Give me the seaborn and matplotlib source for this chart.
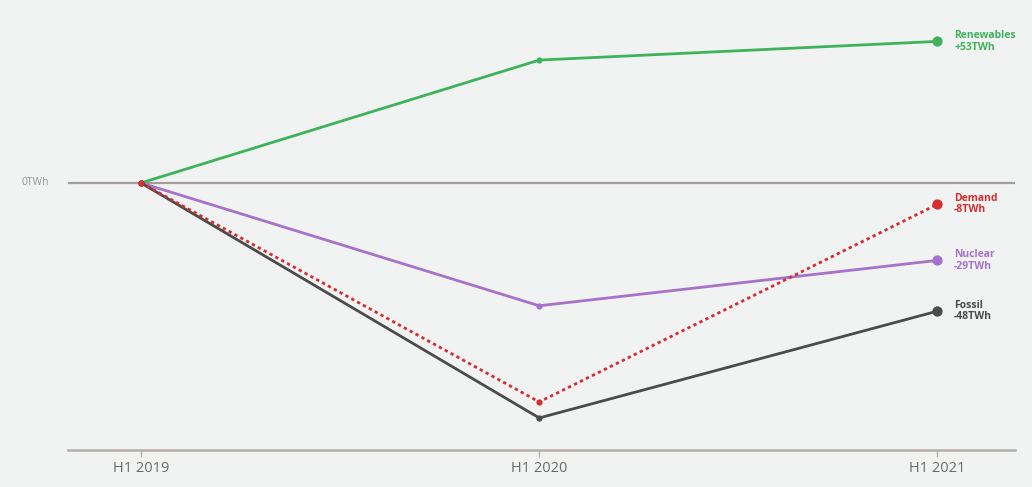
import matplotlib
matplotlib.use("Agg")
import matplotlib.pyplot as plt
import seaborn as sns
import pandas as pd

# Change in EU electricity vs H1 2019 (TWh)
periods = ["H1 2019", "H1 2020", "H1 2021"]
renewables = [0, 46, 53]
demand = [0, -82, -8]
nuclear = [0, -46, -29]
fossil = [0, -88, -48]

series_names = ["Renewables", "Nuclear", "Fossil", "Demand"]
series_values = [renewables, nuclear, fossil, demand]
colors = {"Renewables": "#3fb35b", "Nuclear": "#a772c9",
          "Fossil": "#4b4b4b", "Demand": "#d32f2f"}

rows = []
for name, vals in zip(series_names, series_values):
    for i, (p, v) in enumerate(zip(periods, vals)):
        rows.append({"series": name, "x": i, "period": p, "twh": v})
df = pd.DataFrame(rows)

sns.set_theme(style="white")
plt.rcParams["font.family"] = ["Open Sans", "DejaVu Sans"]

bg = "#f1f3f3"
fig = plt.figure(figsize=(10.32, 4.87), dpi=100, facecolor=bg)
ax = fig.add_axes([0.066, 0.076, 0.918, 0.924], facecolor=bg)

# Zero reference line
ax.axhline(0, color="#a59d9a", lw=1.6, zorder=1)

for name in series_names:
    sub = df[df.series == name]
    sns.lineplot(data=sub, x="x", y="twh", ax=ax, color=colors[name],
                 lw=2.0,
                 linestyle=(0, (1.2, 1.2)) if name == "Demand" else "-",
                 marker="o", markersize=4.5, markeredgewidth=0,
                 zorder=3 if name == "Demand" else 2, legend=False)
    # Larger end marker and label
    last = sub.iloc[-1]
    ax.scatter([last.x], [last.twh], s=55, color=colors[name], zorder=4,
               linewidths=0)
    sign = "+" if last.twh > 0 else ("-" if last.twh < 0 else "")
    ax.text(last.x + 0.042, last.twh, f"{name}\n{sign}{abs(last.twh)}TWh",
            color=colors[name], fontsize=7.5, fontweight="bold",
            va="center", ha="left", linespacing=1.05, zorder=5)

ax.set_xlim(-0.183, 2.196)
ax.set_ylim(-100, 68.5)
ax.set_xticks(range(len(periods)))
ax.set_xticklabels(periods, color="#6f6a68", fontsize=10.5)
ax.set_yticks([])
ax.set_xlabel("")
ax.set_ylabel("")
for s in ["top", "right", "left"]:
    ax.spines[s].set_visible(False)
ax.spines["bottom"].set_color("#b5aeaa")
ax.spines["bottom"].set_linewidth(1.8)
ax.tick_params(axis="x", length=5, width=1, color="#b5aeaa", pad=3,
               direction="out", bottom=True)

ax.text(-0.23, 0, "0TWh", color="#9a9593", fontsize=7.5, va="center",
        ha="right", clip_on=False)

fig.savefig("out.png", dpi=100, facecolor=bg)
